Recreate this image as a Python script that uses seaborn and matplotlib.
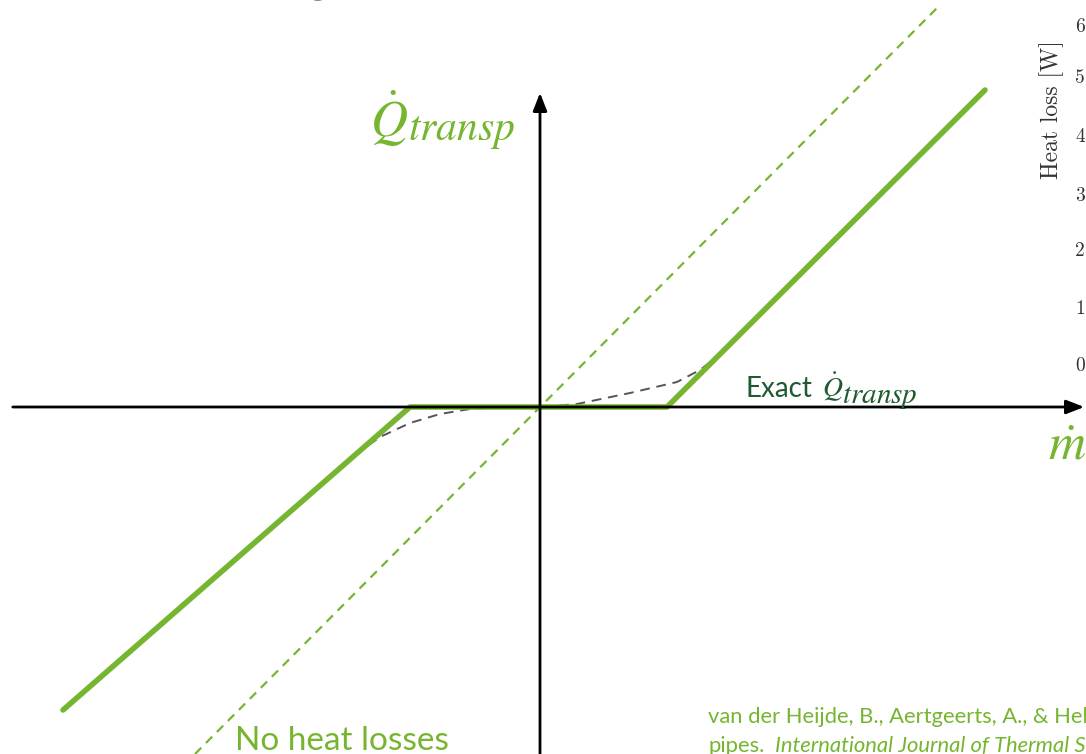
import numpy as np
import pandas as pd
import matplotlib.pyplot as plt
import seaborn as sns

# schematic units: origin where the two axes cross, 1 unit = 100 px
approx_x = [-4.77, -1.30, 1.27, 4.45]
approx_y = [-3.03, 0.0, 0.0, 3.17]

ideal_x = [-3.45, 4.00]
ideal_y = [-3.47, 4.02]

exact_x = [-1.85, -1.60, -1.30, -1.00, -0.70, -0.40, 0.0, 0.37, 0.90, 1.37, 1.60, 1.87]
exact_y = [-0.48, -0.30, -0.16, -0.07, -0.02, 0.0, 0.0, 0.03, 0.14, 0.25, 0.37, 0.58]

# cropped-in axis of the neighbouring plot
inset_ticks = [0, 1, 2, 3, 4, 5, 6]
inset_tick_y = [0.41, 0.98, 1.56, 2.11, 2.70, 3.29, 3.80]

green = '#76b530'
dark_green = '#1f5a30'

sns.set_theme(style='white')
plt.rcParams['font.family'] = ['Lato', 'DejaVu Sans']
plt.rcParams['mathtext.fontset'] = 'stix'

fig = plt.figure(figsize=(10.86, 7.54), dpi=100)
ax = fig.add_axes([0, 0, 1, 1])
ax.set_xlim(-5.40, 5.46)
ax.set_ylim(-3.47, 4.07)
ax.axis('off')

# axes with arrows
arrow = dict(arrowstyle='-|>,head_length=0.9,head_width=0.35', color='black', lw=2)
ax.annotate('', xy=(5.47, 0), xytext=(-5.30, 0), arrowprops=arrow, annotation_clip=False)
ax.annotate('', xy=(0, 3.17), xytext=(0, -3.50), arrowprops=arrow, annotation_clip=False)

sns.lineplot(x=ideal_x, y=ideal_y, ax=ax, color=green, lw=1.6,
             linestyle=(0, (4, 3)), sort=False)
sns.lineplot(x=exact_x, y=exact_y, ax=ax, color='#555555', lw=1.4,
             linestyle=(0, (5, 3.5)), sort=False)
sns.lineplot(x=approx_x, y=approx_y, ax=ax, color=green, lw=4, sort=False)

# vertical axis label
ax.text(-1.70, 2.70, r'$\dot{Q}$', color=green, fontsize=37, va='baseline')
ax.text(-1.32, 2.67, r'$transp$', color=green, fontsize=30, va='baseline')
# horizontal axis label
ax.text(5.08, -0.52, r'$\dot{m}$', color=green, fontsize=37, va='baseline')

ax.text(2.05, 0.10, 'Exact', color=dark_green, fontsize=20, va='baseline')
ax.text(2.82, 0.10, r'$\dot{Q}$', color=dark_green, fontsize=20, va='baseline')
ax.text(3.02, 0.04, r'$transp$', color=dark_green, fontsize=21, va='baseline')

ax.text(-3.05, -3.43, 'No heat losses', color=green, fontsize=24, va='baseline')

ax.text(1.68, -3.16, 'van der Heijde, B., Aertgeerts, A., & Helsen, L. (2017). Modelling steady-state',
        color=green, fontsize=15.8, va='baseline')
ax.text(1.68, -3.45, 'pipes.', color=green, fontsize=15.8, va='baseline')
ax.text(2.35, -3.45, 'International Journal of Thermal Sciences', color=green, fontsize=15.8,
        style='italic', va='baseline')

# partial title at the top edge
ax.text(-2.22, 4.17, 'g', color='black', fontsize=40, ha='center', va='baseline', clip_on=False)

for t, ty in zip(inset_ticks, inset_tick_y):
    ax.text(5.40, ty, str(t), family='cmr10', fontsize=14, color='#333333',
            ha='center', va='center')
ax.text(5.12, 2.97, 'Heat loss [W]', family='cmr10', fontsize=17,
        color='#333333', rotation=90, ha='center', va='center')

fig.savefig('out.png', dpi=100)
